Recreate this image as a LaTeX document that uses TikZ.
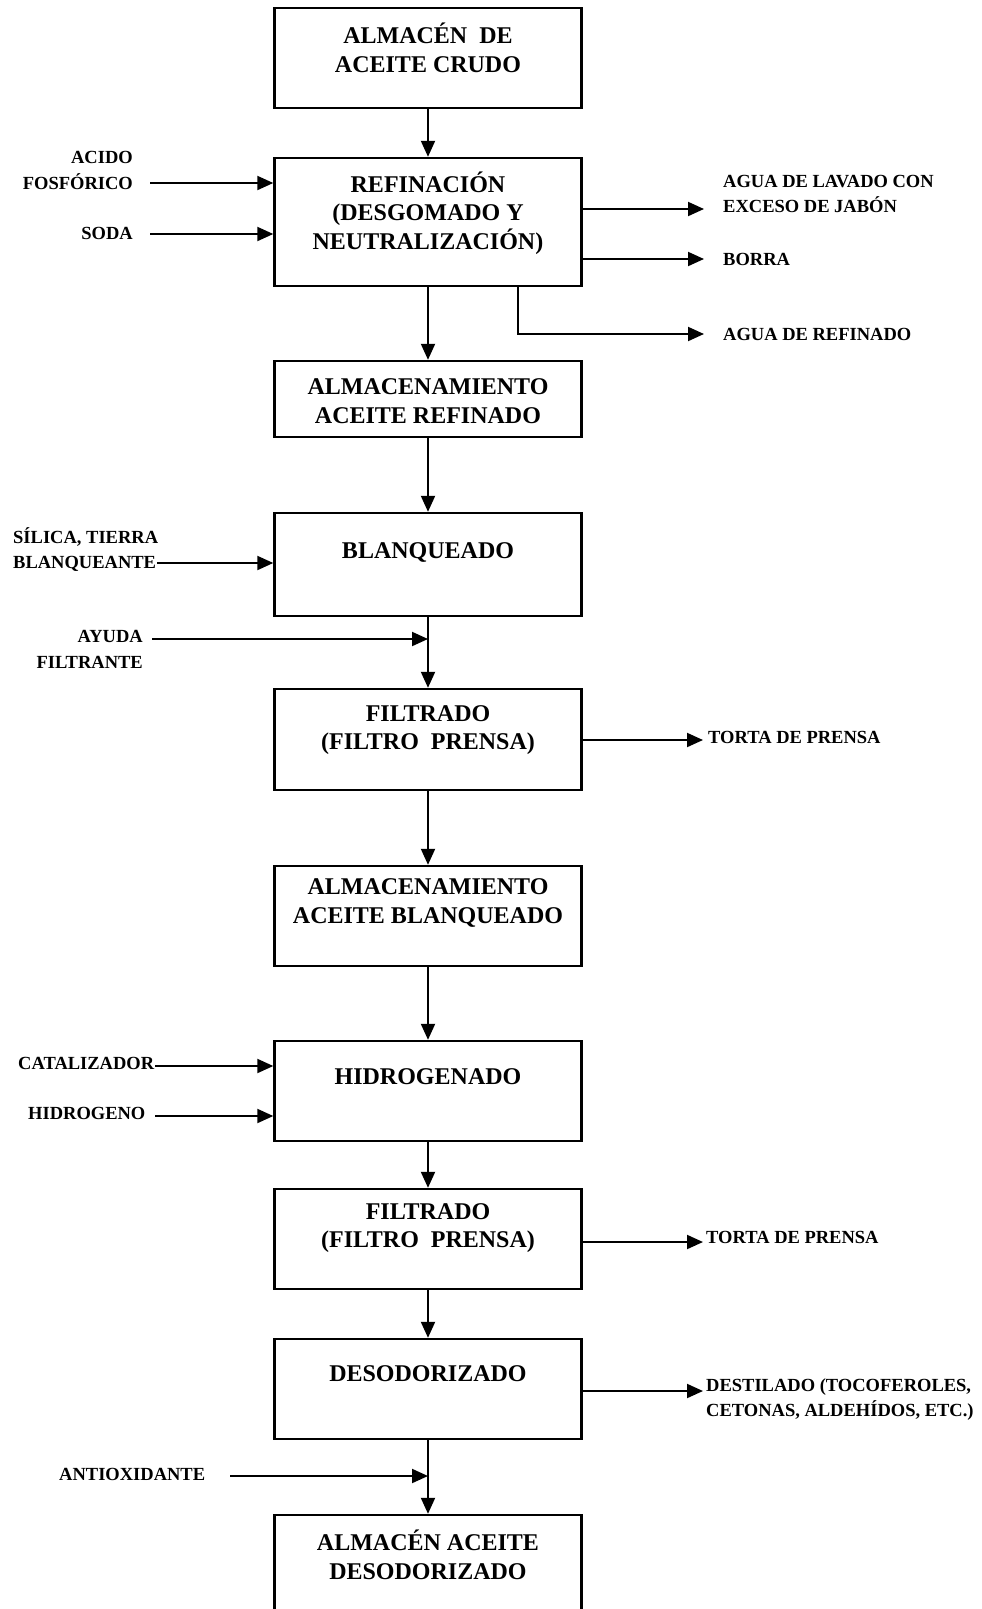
\documentclass[tikz,border=0pt]{standalone}
\usepackage{fontspec}
\setmainfont{Liberation Serif}
\usetikzlibrary{arrows.meta}

\begin{document}
\begin{tikzpicture}[x=1pt, y=-1pt,
    caja/.style={draw, line width=2.4pt, minimum width=307pt, inner sep=0pt},
    titulo/.style={font=\fontsize{24}{28.5}\selectfont\bfseries, align=center, inner sep=0pt},
    lado/.style={font=\fontsize{18.5}{25.5}\selectfont\bfseries, inner sep=0pt},
    flujo/.style={line width=2pt, -{Triangle[length=16pt,width=14pt]}}]
  \useasboundingbox (0,0) rectangle (982,1609);

  \node[caja, minimum height=100pt] (crudo) at (428,58) {};
  \node[caja, minimum height=128pt] (refinacion) at (428,222) {};
  \node[caja, minimum height=76pt] (refinado) at (428,399) {};
  \node[caja, minimum height=103pt] (blanqueado) at (428,564.5) {};
  \node[caja, minimum height=101pt] (filtrado) at (428,739.5) {};
  \node[caja, minimum height=100pt] (almblanq) at (428,916) {};
  \node[caja, minimum height=100pt] (hidrogenado) at (428,1091) {};
  \node[caja, minimum height=100pt] (filtradob) at (428,1239) {};
  \node[caja, minimum height=100pt] (desodorizado) at (428,1389) {};
  \node[caja, minimum height=190pt] (almdesod) at (428,1610) {};

  \node[titulo] (tcrudo) at (428,48) {ALMACÉN\ \ DE\\ACEITE CRUDO};
  \node[titulo] (trefinacion) at (428,213) {REFINACIÓN\\(DESGOMADO Y\\NEUTRALIZACIÓN)};
  \node[titulo] (trefinado) at (428,401) {ALMACENAMIENTO\\ACEITE REFINADO};
  \node[titulo] (tblanqueado) at (428,552) {BLANQUEADO};
  \node[titulo] (tfiltrado) at (428,730) {FILTRADO\\(FILTRO\ \ PRENSA)};
  \node[titulo] (talmblanq) at (428,903) {ALMACENAMIENTO\\ACEITE BLANQUEADO};
  \node[titulo] (thidrogenado) at (428,1077) {HIDROGENADO};
  \node[titulo] (tfiltradob) at (428,1228) {FILTRADO\\(FILTRO\ \ PRENSA)};
  \node[titulo] (tdesodorizado) at (428,1374) {DESODORIZADO};
  \node[titulo] (talmdesod) at (428,1555) {ALMACÉN ACEITE\\DESODORIZADO};

  \node[lado, anchor=east, align=right] (acido) at (133,170.5) {ACIDO\\FOSFÓRICO};
  \node[lado, anchor=east] (soda) at (133,233) {SODA};
  \node[lado, anchor=west, align=left] (lavado) at (723,194) {AGUA DE LAVADO CON\\EXCESO DE JABÓN};
  \node[lado, anchor=west] (borra) at (723,259) {BORRA};
  \node[lado, anchor=west] (aguaref) at (723,334) {AGUA DE REFINADO};
  \node[lado, anchor=west, align=left] (silica) at (13,549.5) {SÍLICA, TIERRA\\BLANQUEANTE};
  \node[lado, anchor=east, align=right] (ayuda) at (143,649.5) {AYUDA\\FILTRANTE};
  \node[lado, anchor=west] (torta) at (708,737) {TORTA DE PRENSA};
  \node[lado, anchor=west] (catalizador) at (18,1063) {CATALIZADOR};
  \node[lado, anchor=west] (hidrogeno) at (28,1113) {HIDROGENO};
  \node[lado, anchor=west] (tortab) at (706,1237) {TORTA DE PRENSA};
  \node[lado, anchor=west, align=left] (destilado) at (706,1399.5) {DESTILADO (TOCOFEROLES,\\CETONAS, ALDEHÍDOS, ETC.)};
  \node[lado, anchor=west] (antioxidante) at (59,1474) {ANTIOXIDANTE};

  \foreach \a/\b in {crudo/refinacion, refinacion/refinado, refinado/blanqueado,
      blanqueado/filtrado, filtrado/almblanq, almblanq/hidrogenado,
      hidrogenado/filtradob, filtradob/desodorizado, desodorizado/almdesod}
    \draw[flujo] (\a) -- (\b);

  \coordinate (eAcido) at (150,183);
  \coordinate (eSoda) at (150,234);
  \coordinate (eSilica) at (157,563);
  \coordinate (eAyuda) at (152,639);
  \coordinate (eCatalizador) at (155,1066);
  \coordinate (eHidrogeno) at (155,1116);
  \coordinate (eAntioxidante) at (230,1476);
  \coordinate (sLavado) at (704,209);
  \coordinate (sBorra) at (704,259);
  \coordinate (sAguaref) at (704,334);
  \coordinate (pAguaref) at (518,0);
  \coordinate (sTorta) at (703,740);
  \coordinate (sTortab) at (703,1242);
  \coordinate (sDestilado) at (703,1391);

  \draw[flujo] (eAcido) -- (eAcido -| refinacion.west);
  \draw[flujo] (eSoda) -- (eSoda -| refinacion.west);
  \draw[flujo] (eSilica) -- (eSilica -| blanqueado.west);
  \draw[flujo] (eAyuda) -- (eAyuda -| blanqueado.south);
  \draw[flujo] (eCatalizador) -- (eCatalizador -| hidrogenado.west);
  \draw[flujo] (eHidrogeno) -- (eHidrogeno -| hidrogenado.west);
  \draw[flujo] (eAntioxidante) -- (eAntioxidante -| desodorizado.south);
  \draw[flujo] (sLavado -| refinacion.east) -- (sLavado);
  \draw[flujo] (sBorra -| refinacion.east) -- (sBorra);
  \draw[flujo] (pAguaref |- refinacion.south) |- (sAguaref);
  \draw[flujo] (sTorta -| filtrado.east) -- (sTorta);
  \draw[flujo] (sTortab -| filtradob.east) -- (sTortab);
  \draw[flujo] (sDestilado -| desodorizado.east) -- (sDestilado);
\end{tikzpicture}
\end{document}
